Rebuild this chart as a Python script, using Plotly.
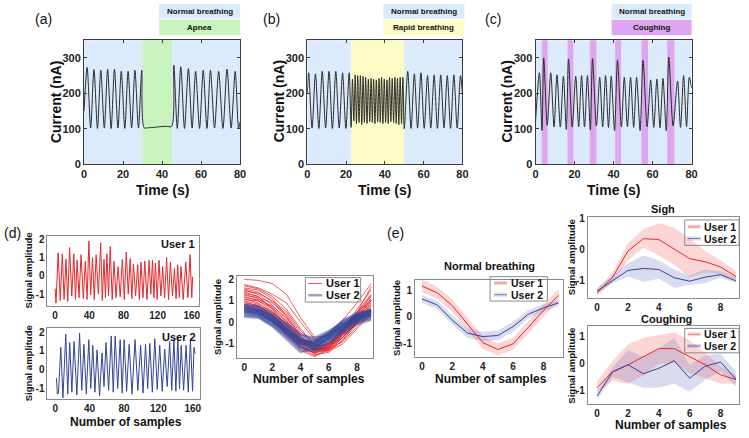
import plotly.graph_objects as go

W, H = 749, 438
FONT = "Liberation Sans"

# ---------------- (a) normal breathing / apnea ----------------
a_time = [0, 1.6, 3.4, 5.1, 6.9, 8.6, 10.4, 12.1, 13.9, 15.6, 17.4, 19.1, 20.9, 22.6, 24.4, 26.1, 27.9, 29.6,
          30.8, 33, 36, 39, 42, 44.9,
          46, 47.8, 49.6, 51.5, 53.5, 55.4, 57.2, 59.2, 61.1, 63, 64.8, 66.9, 69, 71.2, 73.3, 75.4, 77.5, 79.2, 80]
a_current = [150, 273, 102, 267, 101, 265, 102, 268, 101, 268, 102, 262, 101, 262, 102, 265, 102, 265,
             103, 103, 104, 106, 107, 107,
             280, 101, 275, 101, 270, 102, 262, 101, 265, 101, 265, 102, 262, 101, 268, 102, 262, 101, 120]
a_event = [30, 45]

# ---------------- (b) normal / rapid breathing ----------------
b_time = [0, 0.7, 2.45, 4.2, 5.95, 7.7, 9.45, 11.2, 12.95, 14.7, 16.45, 18.2, 19.9, 21.6, 22.6,
          23.3, 24.0, 24.7, 25.35, 26.0, 26.7, 27.4, 28.1, 28.8, 29.45, 30.1, 30.8, 31.5, 32.2, 32.9, 33.55,
          34.2, 34.9, 35.6, 36.3, 37.0, 37.65, 38.3, 39.0, 39.7, 40.4, 41.1, 41.75, 42.4, 43.1, 43.8, 44.5,
          45.2, 45.85, 46.5, 47.2, 47.9, 48.6, 49.3, 50.0,
          51.8, 53.5, 55.2, 56.9, 58.6, 60.3, 62.0, 63.7, 65.4, 67.1, 68.8, 70.5, 72.2, 73.9, 75.6, 77.3, 79.0, 80]
b_current = [200, 258, 102, 255, 101, 262, 102, 262, 101, 262, 102, 258, 101, 258, 104,
             240, 122, 252, 115, 250, 118, 250, 112, 248, 118, 245, 115, 240, 120, 242, 118,
             240, 115, 238, 120, 242, 118, 245, 115, 240, 118, 238, 115, 245, 120, 242, 118,
             245, 115, 242, 112, 245, 115, 245, 100,
             262, 101, 255, 102, 258, 101, 250, 102, 252, 101, 252, 102, 250, 101, 252, 102, 250, 200]
b_event = [22.5, 50]

# ---------------- (c) normal breathing / coughing ----------------
c_time = [0, 2, 3.3, 4.2, 6, 7.8, 9.5, 11, 12.7, 14.3, 15.8, 16.9, 18.8, 20.6, 22.1, 23.6, 25.1, 26.6, 28.1,
          29.2, 31.2, 32.9, 34.4, 35.9, 37.4, 38.8, 40.5, 42, 44, 45.5, 47.1, 48.7, 50.3, 51.8, 53.6, 55.1,
          57.2, 59, 60.6, 62.2, 63.8, 65.3, 67, 68.3, 70.5, 72.8, 74.3, 75.9, 77.4, 78.8, 80]
c_current = [120, 258, 95, 300, 110, 258, 105, 252, 105, 248, 98, 297, 105, 248, 105, 250, 105, 250, 97,
             298, 108, 245, 105, 250, 104, 248, 95, 293, 105, 245, 106, 245, 104, 245, 95, 293,
             106, 238, 104, 240, 103, 242, 95, 302, 108, 235, 104, 250, 106, 245, 215]
c_cough_start = [3.2, 16.4, 27.8, 40.8, 54.3, 67.5]
c_cough_end = [6.2, 19.4, 31.2, 43.8, 57.7, 71.2]

# ---------------- (d) raw signals ----------------
u1_sample = [0, 1, 3.5, 6, 8.4, 10.5, 12.7, 14.8, 16.9, 19.5, 21.9, 23.8, 25.7, 28, 30.3, 33, 35.3, 37.4, 39.5,
             41.6, 43.7, 45.8, 48, 50.6, 53.3, 55.2, 57.2, 58.9, 60.6, 62.5, 64.5, 66.8, 69, 71.3, 73.7, 76.2,
             78.7, 81, 83.3, 85.6, 87.9, 89.8, 91.7, 94.2, 96.7, 98.6, 100.5, 102.8, 105, 107.5, 110, 112, 114,
             115.7, 117.4, 119.5, 121.6, 123.8, 125.9, 128.2, 130.5, 132.8, 135, 137.4, 139.7, 141.6, 143.5,
             145.4, 147.3, 150, 153, 155.5, 158, 160, 161]
u1_amp = [-0.7, -1.5, 1.25, -1.35, 1.2, -1.3, 0.9, -1.4, 1.55, -1.1, 1.2, -1.3, 0.85, -1.2, 1.15, -1.25, 0.8, -1.3, 1.9,
          -1.05, 1.0, -1.3, 1.15, -1.0, 1.8, -1.35, 0.9, -1.2, 1.2, -1.1, 1.6, -1.3, 0.8, -1.2, 0.5, -1.15,
          0.9, -1.3, 1.3, -1.0, 0.95, -1.25, 0.65, -1.1, 0.6, -1.3, 0.75, -1.2, 0.8, -1.3, 0.85, -1.0, 0.85,
          -1.2, 0.7, -1.3, 0.85, -1.1, 0.5, -1.2, 1.0, -1.3, 0.75, -1.1, 0.4, -1.25, 0.6,
          -1.2, 0.5, -1.3, 0.75, -1.2, 1.15, -1.2, -0.05]

u2_sample = [1.5, 2.5, 3.8, 6.5, 9, 12.3, 14.6, 16.9, 19.4, 21.9, 25.2, 28.4, 30.9, 33.4, 36.2, 39.1, 41.4, 43.7,
             46.2, 48.7, 51.6, 54.5, 56.8, 59.1, 62.1, 65.2, 67.5, 69.8, 72.7, 75.6, 77.9, 80.2, 83.1, 86, 89.4,
             92.9, 96.1, 99.4, 102.2, 105.1, 107.6, 110.1, 113, 115.9, 118.7, 121.6, 124.5, 127.4, 130.3, 133.2,
             135.6, 138.1, 140.4, 142.7, 144.6, 146.6, 149.4, 152.3, 154.8, 157.3, 159.8, 161.5, 162.7]
u2_amp = [-0.45, -1.3, -1.25, 1.2, -1.5, 1.9, -1.3, 1.45, -1.2, 1.5, -1.35, 1.95, -1.1, 1.35, -1.3, 1.6, -1.0, 1.3,
          -1.2, 1.05, -1.4, 0.9, -0.9, 1.45, -1.1, 1.8, -1.2, 1.8, -1.0, 1.6, -1.25, 1.6, -1.15, 1.35, -1.3,
          1.6, -1.1, 1.3, -1.25, 1.35, -1.0, 1.4, -1.2, 1.65, -1.05, 1.3, -1.15, 1.1, -0.9, 1.5,
          -1.1, 1.6, -1.15, 1.75, -1.0, 1.3, -1.1, 1.3, -1.2, 1.6, -1.15, 1.2, 0.85]

# ---------------- (d) segmented cycles ----------------
seg_x = [0, 1, 2, 3, 4, 5, 6, 7, 8, 9]
user1_segments = [
    [2.0, 1.95, 1.8, 1.3, 0.2, -0.7, -0.6, 0.1, 0.9, 1.8],
    [1.75, 1.6, 1.3, 0.9, 0.0, -0.8, -1.0, -0.3, 0.6, 1.5],
    [1.6, 1.5, 1.1, 0.3, -0.6, -1.3, -1.2, -0.6, 0.3, 1.1],
    [1.5, 1.3, 0.8, 0.1, -0.8, -1.4, -1.3, -0.7, 0.1, 0.9],
    [1.4, 1.2, 0.6, -0.2, -1.0, -1.5, -1.4, -0.8, 0.0, 0.8],
    [1.3, 1.1, 0.7, 0.0, -0.9, -1.3, -1.1, -0.5, 0.2, 1.0],
    [1.2, 1.0, 0.5, -0.3, -1.1, -1.45, -1.2, -0.6, 0.1, 0.7],
    [1.1, 0.9, 0.4, -0.4, -1.2, -1.55, -1.3, -0.7, 0.0, 0.6],
    [1.0, 0.85, 0.5, -0.1, -0.9, -1.2, -1.0, -0.4, 0.4, 1.2],
    [0.9, 0.8, 0.3, -0.5, -1.2, -1.4, -1.1, -0.5, 0.2, 0.8],
    [1.25, 1.15, 0.9, 0.4, -0.5, -1.1, -1.25, -0.9, -0.2, 0.5],
    [0.8, 0.7, 0.2, -0.6, -1.3, -1.6, -1.2, -0.4, 0.3, 0.9],
    [1.35, 1.2, 0.6, -0.1, -0.8, -1.25, -1.35, -1.0, -0.3, 0.4],
    [0.7, 0.6, 0.3, -0.3, -1.0, -1.3, -1.05, -0.3, 0.5, 1.0],
    [1.15, 1.05, 0.75, 0.2, -0.7, -1.15, -1.0, -0.6, -0.1, 0.3],
    [1.45, 1.35, 1.0, 0.5, -0.4, -1.0, -1.15, -0.7, 0.0, 0.6],
    [0.95, 0.75, 0.35, -0.25, -0.95, -1.35, -1.25, -0.55, 0.25, 1.05],
    [1.05, 1.0, 0.65, 0.05, -0.75, -1.2, -1.3, -0.85, -0.05, 0.45],
    [0.6, 0.5, 0.1, -0.5, -1.1, -1.45, -1.1, -0.35, 0.45, 1.3],
    [1.55, 1.4, 0.95, 0.25, -0.65, -1.25, -1.2, -0.45, 0.35, 1.25],
    [1.7, 1.55, 1.2, 0.6, -0.3, -1.1, -1.05, -0.5, 0.45, 1.65],
    [0.85, 0.75, 0.45, -0.15, -0.85, -1.25, -1.15, -0.7, 0.05, 0.55],
]
user2_segments = [
    [0.8, 0.7, 0.3, -0.3, -0.9, -1.0, -0.6, -0.1, 0.3, 0.5],
    [0.7, 0.6, 0.2, -0.4, -1.0, -1.1, -0.7, -0.2, 0.2, 0.4],
    [0.6, 0.5, 0.1, -0.5, -1.1, -1.2, -0.8, -0.3, 0.1, 0.3],
    [0.5, 0.4, 0.0, -0.6, -1.2, -1.3, -0.9, -0.4, 0.0, 0.2],
    [0.4, 0.3, -0.1, -0.7, -1.3, -1.35, -1.0, -0.5, -0.1, 0.1],
    [0.75, 0.65, 0.35, -0.1, -0.6, -0.7, -0.4, 0.0, 0.4, 0.6],
    [0.65, 0.55, 0.25, -0.2, -0.7, -0.8, -0.5, 0.1, 0.45, 0.55],
    [0.55, 0.5, 0.15, -0.35, -0.85, -0.95, -0.55, -0.05, 0.35, 0.45],
    [0.3, 0.25, -0.2, -0.8, -1.4, -1.2, -0.7, -0.2, 0.15, 0.35],
    [0.45, 0.35, 0.05, -0.45, -0.95, -1.05, -0.75, -0.3, 0.05, 0.25],
    [0.7, 0.55, 0.1, -0.45, -0.9, -0.85, -0.45, 0.05, 0.35, 0.5],
    [0.6, 0.45, 0.05, -0.55, -1.05, -0.95, -0.55, -0.1, 0.25, 0.35],
    [0.35, 0.3, -0.05, -0.55, -1.0, -1.15, -0.85, -0.35, 0.1, 0.3],
    [0.8, 0.75, 0.4, -0.05, -0.55, -0.8, -0.6, -0.15, 0.3, 0.6],
    [0.5, 0.45, 0.2, -0.3, -0.8, -0.9, -0.6, -0.2, 0.2, 0.45],
    [0.25, 0.2, -0.15, -0.65, -1.15, -1.25, -0.95, -0.45, 0.0, 0.15],
    [0.65, 0.6, 0.3, -0.25, -0.75, -1.05, -0.7, -0.25, 0.15, 0.4],
    [0.55, 0.4, 0.0, -0.4, -0.85, -1.0, -0.65, -0.15, 0.3, 0.5],
    [0.45, 0.4, 0.1, -0.35, -0.95, -1.1, -0.8, -0.35, 0.15, 0.35],
    [0.75, 0.6, 0.2, -0.35, -0.8, -0.9, -0.5, -0.05, 0.25, 0.55],
]

# ---------------- (e) mean +/- band ----------------
normal_u1 = [1.15, 0.9, 0.42, -0.27, -0.95, -1.21, -1.0, -0.39, 0.24, 0.81]
normal_u1_hi = [1.39, 1.12, 0.66, -0.03, -0.72, -0.99, -0.78, -0.15, 0.46, 1.05]
normal_u1_lo = [0.92, 0.68, 0.18, -0.5, -1.18, -1.43, -1.22, -0.62, 0.02, 0.58]
normal_u2 = [0.67, 0.45, -0.12, -0.6, -0.73, -0.69, -0.36, 0.1, 0.34, 0.52]
normal_u2_hi = [0.82, 0.6, 0.05, -0.43, -0.55, -0.5, -0.18, 0.25, 0.48, 0.62]
normal_u2_lo = [0.52, 0.3, -0.28, -0.77, -0.9, -0.87, -0.54, -0.05, 0.2, 0.42]

sigh_u1 = [-1.4, -0.9, -0.05, 0.35, 0.32, 0.0, -0.3, -0.4, -0.57, -0.88]
sigh_u1_hi = [-1.3, -0.75, 0.2, 0.65, 0.85, 0.7, 0.35, -0.05, -0.35, -0.7]
sigh_u1_lo = [-1.5, -1.05, -0.35, 0.05, -0.2, -0.5, -0.9, -0.75, -0.8, -1.0]
sigh_u2 = [-1.35, -1.0, -0.68, -0.62, -0.65, -0.92, -1.03, -0.9, -0.82, -1.02]
sigh_u2_hi = [-1.25, -0.85, -0.45, -0.2, -0.35, -0.65, -0.85, -0.65, -0.72, -0.9]
sigh_u2_lo = [-1.45, -1.1, -0.88, -1.05, -0.95, -1.25, -1.15, -1.1, -0.92, -1.1]

cough_u1 = [-0.9, -0.3, -0.05, 0.25, 0.55, 0.55, 0.25, -0.05, -0.42, -0.6]
cough_u1_hi = [-0.65, 0.1, 0.7, 0.95, 1.05, 1.15, 0.85, 0.4, -0.1, -0.45]
cough_u1_lo = [-1.05, -0.65, -0.75, -0.45, 0.0, 0.0, -0.35, -0.55, -0.75, -0.75]
cough_u2 = [-1.2, -0.32, -0.05, -0.38, -0.18, 0.1, -0.55, -0.1, 0.05, -0.58]
cough_u2_hi = [-1.05, -0.15, 0.5, 0.25, 0.55, 0.95, -0.05, 0.3, 0.35, -0.3]
cough_u2_lo = [-1.35, -0.5, -0.7, -0.9, -0.9, -0.75, -1.05, -0.6, -0.3, -0.85]

# ---------------- styling ----------------
BLUE_BG = "#dcebfb"
GREEN = "#c8f3bc"
YELLOW = "#fdfbc6"
PURPLE = "#dfa5f1"
RED = "#e8262b"
NAVY = "#34449a"
RED_BAND = "rgba(248,150,150,0.40)"
BLUE_BAND = "rgba(120,130,195,0.28)"


def px(xp):
    return xp / W


def py(yp):
    return 1 - yp / H


fig = go.Figure()

panels = [
    ("", (82, 240), (37, 164), [0, 80], [0, 350], [0, 20, 40, 60, 80], [0, 100, 200, 300], "top"),
    ("2", (308, 465), (37, 164), [0, 80], [0, 350], [0, 20, 40, 60, 80], [0, 100, 200, 300], "top"),
    ("3", (539, 697), (37, 164), [0, 80], [0, 350], [0, 20, 40, 60, 80], [0, 100, 200, 300], "top"),
    ("4", (45, 198), (237, 309), [-9, 168], [-1.65, 2.2], [0, 40, 80, 120, 160], [-1, 0, 1, 2], "low"),
    ("5", (45, 199), (332, 404), [-9, 168], [-1.55, 2.2], [0, 40, 80, 120, 160], [-1, 0, 1, 2], "low"),
    ("6", (237, 374), (278, 362), [-0.5, 9.1], [-1.65, 2.17], [0, 2, 4, 6, 8], [-1, 0, 1, 2], "low"),
    ("7", (417, 567), (282, 361), [-0.46, 9.3], [-1.48, 1.39], [0, 2, 4, 6, 8], [-1, 0, 1], "low"),
    ("8", (592, 745), (218, 301), [-0.6, 9.2], [-1.58, 1.05], [0, 2, 4, 6, 8], [-1, 0, 1], "low"),
    ("9", (592, 745), (330, 409), [-0.6, 9.2], [-1.49, 1.37], [0, 2, 4, 6, 8], [-1, 0, 1], "low"),
]

layout_axes = {}
for name, (x0, x1), (yt, yb), xr, yr, xt, ytk, style in panels:
    top = style == "top"
    common = dict(
        showgrid=False, zeroline=False, showline=True, mirror="allticks" if top else True,
        linecolor="#3a3a3a" if top else "#8a8a8a", linewidth=1,
        ticks="inside" if top else "", ticklen=3,
        tickcolor="#3a3a3a",
        tickfont=dict(family=FONT, size=11 if top else 10, color="#222", weight="bold"),
    )
    layout_axes["xaxis" + name] = dict(common, domain=[px(x0), px(x1)], range=xr, tickvals=xt,
                                       ticktext=[str(v) for v in xt], anchor="y" + name)
    layout_axes["yaxis" + name] = dict(common, domain=[py(yb), py(yt)], range=yr, tickvals=ytk,
                                       ticktext=[str(v) for v in ytk], anchor="x" + name)

fig.update_layout(**layout_axes)

shapes = []
annotations = []


def ann(text, x, y, size, bold=True, angle=0, xanchor="center", color="#111"):
    annotations.append(dict(
        text=("<b>%s</b>" % text) if bold else text, x=px(x), y=py(y), xref="paper", yref="paper",
        showarrow=False, xanchor=xanchor, yanchor="middle", textangle=angle,
        font=dict(family=FONT, size=size, color=color)))


def band(axis, t0, t1, color):
    shapes.append(dict(type="rect", xref="x" + axis, yref="y%s domain" % axis, x0=t0, x1=t1, y0=0, y1=1,
                       fillcolor=color, line=dict(width=0), layer="below"))


# ---- (a)(b)(c) ----
for axis, t, v, label, ev_color, ev_name, lx0, lx1, plx in [
    ("", a_time, a_current, "(a)", GREEN, "Apnea", 158, 240, 41),
    ("2", b_time, b_current, "(b)", YELLOW, "Rapid breathing", 385, 467, 272),
    ("3", c_time, c_current, "(c)", PURPLE, "Coughing", 616, 697, 496),
]:
    band(axis, 0, 80, BLUE_BG)
    fig.add_trace(go.Scatter(x=t, y=v, mode="lines", line=dict(color="#2b2b2b", width=1, shape="spline",
                                                                 smoothing=0.8),
                             xaxis="x" + axis, yaxis="y" + axis, showlegend=False, hoverinfo="skip"))
    shapes.append(dict(type="rect", xref="paper", yref="paper", x0=px(lx0), x1=px(lx1), y0=py(15), y1=py(0),
                       fillcolor=BLUE_BG, line=dict(width=0)))
    shapes.append(dict(type="rect", xref="paper", yref="paper", x0=px(lx0), x1=px(lx1), y0=py(32), y1=py(16),
                       fillcolor=ev_color, line=dict(width=0)))
    ann("Normal breathing", (lx0 + lx1) / 2, 7.5, 8)
    ann(ev_name, (lx0 + lx1) / 2, 24, 8)
    ann(label, plx, 15, 14, bold=False)

band("", a_event[0], a_event[1], GREEN)
band("2", b_event[0], b_event[1], YELLOW)
for s, e in zip(c_cough_start, c_cough_end):
    band("3", s, e, PURPLE)

for cx, x0 in [(161, 82), (386, 308), (618, 539)]:
    ann("Time (s)", cx, 190, 14)
    ann("Current (nA)", x0 - 29, 100, 14, angle=-90)

# ---- (d) raw ----
fig.add_trace(go.Scatter(x=u1_sample, y=u1_amp, mode="lines", line=dict(color=RED, width=1),
                         xaxis="x4", yaxis="y4", showlegend=False, hoverinfo="skip"))
fig.add_trace(go.Scatter(x=u2_sample, y=u2_amp, mode="lines", line=dict(color=NAVY, width=1),
                         xaxis="x5", yaxis="y5", showlegend=False, hoverinfo="skip"))
ann("User 1", 196, 246, 11, xanchor="right")
ann("User 2", 197, 341, 11, xanchor="right")
ann("Signal amplitude", 26, 273, 9.5, angle=-90)
ann("Signal amplitude", 26, 368, 9.5, angle=-90)
ann("Number of samples", 125, 428, 12)
ann("(d)", 10, 234, 14, bold=False)
ann("(e)", 397, 234, 14, bold=False)

# ---- (d) segments ----
for seg in user1_segments:
    fig.add_trace(go.Scatter(x=seg_x, y=seg, mode="lines", line=dict(color="rgba(232,38,43,0.75)", width=1),
                             xaxis="x6", yaxis="y6", showlegend=False, hoverinfo="skip"))
for seg in user2_segments:
    fig.add_trace(go.Scatter(x=seg_x, y=seg, mode="lines", line=dict(color="rgba(52,68,154,0.45)", width=2),
                             xaxis="x6", yaxis="y6", showlegend=False, hoverinfo="skip"))
ann("Signal amplitude", 217, 320, 9.5, angle=-90)
ann("Number of samples", 310, 384, 12)

# ---- (e) ----
for axis, m1, h1, l1, m2, h2, l2 in [
    ("7", normal_u1, normal_u1_hi, normal_u1_lo, normal_u2, normal_u2_hi, normal_u2_lo),
    ("8", sigh_u1, sigh_u1_hi, sigh_u1_lo, sigh_u2, sigh_u2_hi, sigh_u2_lo),
    ("9", cough_u1, cough_u1_hi, cough_u1_lo, cough_u2, cough_u2_hi, cough_u2_lo),
]:
    for hi, lo, col in [(h1, l1, RED_BAND), (h2, l2, BLUE_BAND)]:
        fig.add_trace(go.Scatter(x=seg_x + seg_x[::-1], y=hi + lo[::-1], fill="toself", fillcolor=col,
                                 mode="lines", line=dict(width=0), xaxis="x" + axis, yaxis="y" + axis,
                                 showlegend=False, hoverinfo="skip"))
    fig.add_trace(go.Scatter(x=seg_x, y=m1, mode="lines", line=dict(color=RED, width=1),
                             xaxis="x" + axis, yaxis="y" + axis, showlegend=False, hoverinfo="skip"))
    fig.add_trace(go.Scatter(x=seg_x, y=m2, mode="lines", line=dict(color=NAVY, width=1),
                             xaxis="x" + axis, yaxis="y" + axis, showlegend=False, hoverinfo="skip"))

ann("Normal breathing", 492, 268, 11)
ann("Sigh", 668, 210, 11)
ann("Coughing", 672, 322, 11)
ann("Signal amplitude", 398, 321, 9.5, angle=-90)
ann("Signal amplitude", 575, 259, 9.5, angle=-90)
ann("Signal amplitude", 575, 370, 9.5, angle=-90)
ann("Number of samples", 494, 384, 12)
ann("Number of samples", 676, 431, 12)


# ---- manual legends ----
def legend(box, lx, ys, tx, kind, size):
    x0, y0, x1, y1 = box
    shapes.append(dict(type="rect", xref="paper", yref="paper", x0=px(x0), x1=px(x1), y0=py(y1), y1=py(y0),
                       line=dict(color="#8a8a8a", width=1), fillcolor="rgba(0,0,0,0)"))
    for (yy, text, col, band_col) in ys:
        if kind == "seg":
            shapes.append(dict(type="line", xref="paper", yref="paper", x0=px(lx[0]), x1=px(lx[1]),
                               y0=py(yy), y1=py(yy), line=dict(color=col, width=1 if band_col is None else 2.5)))
        else:
            shapes.append(dict(type="line", xref="paper", yref="paper", x0=px(lx[0]), x1=px(lx[1]),
                               y0=py(yy), y1=py(yy), line=dict(color=band_col, width=4)))
            shapes.append(dict(type="line", xref="paper", yref="paper", x0=px(lx[0]), x1=px(lx[1]),
                               y0=py(yy), y1=py(yy), line=dict(color=col, width=1)))
        ann(text, tx, yy, size, xanchor="left")


legend((306, 280, 362, 305), (309, 323), [(286, "User 1", "rgba(232,38,43,0.8)", None),
                                          (298, "User 2", "rgba(52,68,154,0.5)", 1)], 325, "seg", 11)
legend((493, 279, 551, 304), (497, 510), [(285.5, "User 1", "rgba(232,38,43,0.5)", RED_BAND),
                                          (297.5, "User 2", "rgba(52,68,154,0.6)", BLUE_BAND)], 512, "band", 10.5)
legend((690, 221, 745, 247), (693, 706), [(228, "User 1", "rgba(232,38,43,0.5)", RED_BAND),
                                          (240, "User 2", "rgba(52,68,154,0.6)", BLUE_BAND)], 708, "band", 10.5)
legend((690, 332, 745, 357), (693, 706), [(338, "User 1", "rgba(232,38,43,0.5)", RED_BAND),
                                          (350, "User 2", "rgba(52,68,154,0.6)", BLUE_BAND)], 708, "band", 10.5)

fig.update_layout(
    width=W, height=H, margin=dict(l=0, r=0, t=0, b=0),
    paper_bgcolor="white", plot_bgcolor="white",
    shapes=shapes, annotations=annotations, showlegend=False,
    font=dict(family=FONT),
)

fig.write_html("out.html", include_plotlyjs=True, config={"displayModeBar": False})
